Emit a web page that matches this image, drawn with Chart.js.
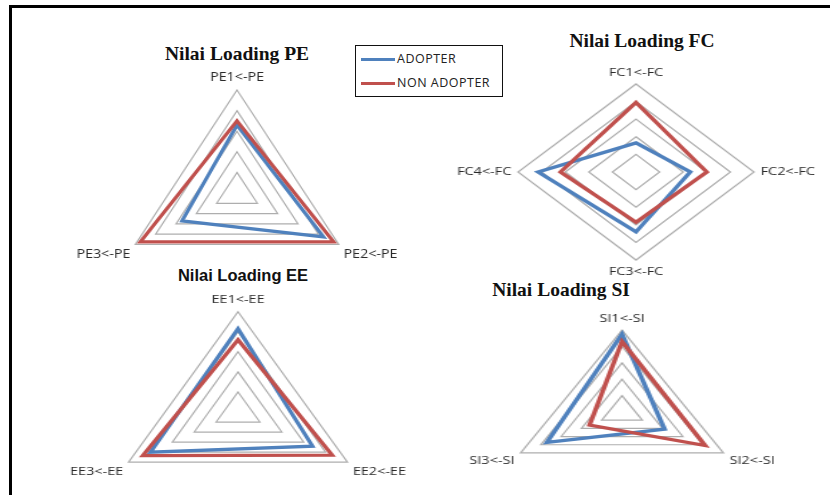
<!DOCTYPE html>
<html>
<head>
<meta charset="utf-8">
<script src="https://cdn.jsdelivr.net/npm/chart.js@4.4.0/dist/chart.umd.min.js"></script>
<style>
  body { margin: 0; width: 830px; height: 495px; background: #fff; overflow: hidden; position: relative; }
  .moldura { position: absolute; left: 9px; top: 5px; width: 830px; height: 500px;
             border-left: 3px solid #000; border-top: 3px solid #000; }
  .grafico { position: absolute; }
  .titulo { position: absolute; font-weight: bold; color: #111; white-space: nowrap; transform: translateX(-50%); }
  .serif { font-family: "Liberation Serif", "DejaVu Serif", serif; font-size: 19.5px; }
  .sans { font-family: "Liberation Sans", Arial, sans-serif; font-size: 16.5px; }
  .legenda { position: absolute; left: 355px; top: 45px; width: 146px; height: 50px;
             border: 1.5px solid #111; background: #fff; z-index: 5;
             font-family: "Open Sans", sans-serif; font-size: 12.5px; letter-spacing: 0.5px; color: #222; }
  .item { position: absolute; left: 5px; height: 16px; line-height: 16px; white-space: nowrap; }
  .item span { display: inline-block; width: 34px; height: 2.5px; vertical-align: middle; margin-right: 2px; }
</style>
</head>
<body>
<div class="moldura"></div>

<div class="titulo serif" style="left:237px; top:43px;">Nilai Loading PE</div>
<div class="titulo serif" style="left:642px; top:30px;">Nilai Loading FC</div>
<div class="titulo sans" style="left:243px; top:266px;">Nilai Loading EE</div>
<div class="titulo serif" style="left:561px; top:279px;">Nilai Loading SI</div>

<div class="legenda">
  <div class="item" style="top:5px;"><span style="background:#4F81BD"></span>ADOPTER</div>
  <div class="item" style="top:29px;"><span style="background:#C0504D"></span>NON ADOPTER</div>
</div>

<div class="grafico" id="wrapPE"><canvas id="chartPE" width="360" height="246"></canvas></div>
<div class="grafico" id="wrapFC"><canvas id="chartFC" width="330" height="212"></canvas></div>
<div class="grafico" id="wrapEE"><canvas id="chartEE" width="340" height="238"></canvas></div>
<div class="grafico" id="wrapSI"><canvas id="chartSI" width="300" height="198"></canvas></div>

<script>
// Nilai loading tiap indikator
const labelsPE = ['PE1<-PE', 'PE2<-PE', 'PE3<-PE'];
const adopterPE = [0.66, 0.85, 0.54];
const nonAdopterPE = [0.70, 0.95, 0.95];

const labelsFC = ['FC1<-FC', 'FC2<-FC', 'FC3<-FC', 'FC4<-FC'];
const adopterFC = [0.33, 0.46, 0.68, 0.83];
const nonAdopterFC = [0.79, 0.60, 0.57, 0.64];

const labelsEE = ['EE1<-EE', 'EE2<-EE', 'EE3<-EE'];
const adopterEE = [0.83, 0.68, 0.80];
const nonAdopterEE = [0.72, 0.86, 0.87];

const labelsSI = ['SI1<-SI', 'SI2<-SI', 'SI3<-SI'];
const adopterSI = [0.95, 0.42, 0.74];
const nonAdopterSI = [0.86, 0.82, 0.32];

const escalaMin = 0;
const escalaMax = 1;
const passo = 0.2;

// desenha um radar e coloca o centro no ponto pedido (esticado na horizontal como no original)
function desenharRadar(id, labels, adopter, nonAdopter, tamanhoFonte, cx, cy, esticar) {
    const ctx = document.getElementById('chart' + id).getContext('2d');
    const chart = new Chart(ctx, {
        type: 'radar',
        data: {
            labels: labels,
            datasets: [{
                label: 'ADOPTER',
                data: adopter,
                borderColor: '#4F81BD',
                borderWidth: 3.3,
                backgroundColor: 'transparent',
                pointRadius: 0,
                order: 1
            }, {
                label: 'NON ADOPTER',
                data: nonAdopter,
                borderColor: '#C0504D',
                borderWidth: 3.3,
                backgroundColor: 'transparent',
                pointRadius: 0,
                order: 0
            }]
        },
        options: {
            responsive: false,
            animation: false,
            events: [],
            plugins: { legend: { display: false }, tooltip: { enabled: false } },
            scales: {
                r: {
                    min: escalaMin,
                    max: escalaMax,
                    ticks: { stepSize: passo, display: false },
                    angleLines: { display: false },
                    grid: { color: '#AEAEAE', lineWidth: 1.2 },
                    pointLabels: {
                        padding: 5,
                        color: '#2a2a2a',
                        font: { family: 'Open Sans', size: tamanhoFonte }
                    }
                }
            }
        }
    });

    const r = chart.scales.r;
    const wrap = document.getElementById('wrap' + id);
    wrap.style.left = (cx - r.xCenter) + 'px';
    wrap.style.top = (cy - r.yCenter) + 'px';
    wrap.style.transformOrigin = r.xCenter + 'px ' + r.yCenter + 'px';
    wrap.style.transform = 'scaleX(' + esticar + ')';
}

desenharRadar('PE', labelsPE, adopterPE, nonAdopterPE, 12.5, 236.5, 193.3, 1.14);
desenharRadar('FC', labelsFC, adopterFC, nonAdopterFC, 10.8, 636, 171.7, 1.34);
desenharRadar('EE', labelsEE, adopterEE, nonAdopterEE, 11.4, 237.5, 411.7, 1.26);
desenharRadar('SI', labelsSI, adopterSI, nonAdopterSI, 10.1, 621.7, 412.2, 1.43);
</script>
</body>
</html>
